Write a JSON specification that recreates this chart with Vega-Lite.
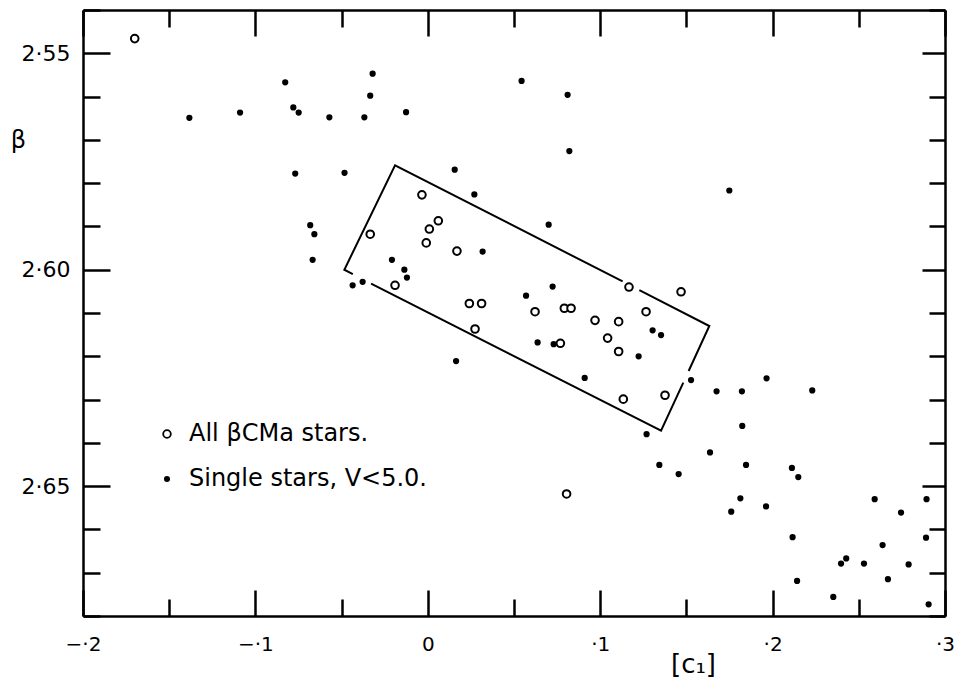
{
  "$schema": "https://vega.github.io/schema/vega-lite/v6.json",
  "width": 862,
  "height": 606,
  "autosize": {"type": "none"},
  "padding": {"left": 83, "top": 10, "right": 21, "bottom": 71},
  "background": "white",
  "config": {
    "view": {"stroke": null},
    "font": "DejaVu Sans",
    "axis": {
      "domainColor": "black",
      "domainWidth": 2.5,
      "tickColor": "black",
      "tickWidth": 2.5,
      "grid": false,
      "labelColor": "black",
      "labelFont": "DejaVu Sans",
      "titleColor": "black",
      "titleFont": "DejaVu Sans",
      "titleFontWeight": "normal"
    },
    "legend": {"labelFont": "DejaVu Sans"}
  },
  "datasets": {
    "box": [
      {"seg": "s1", "ord": 1, "c1": -0.0435, "beta": 2.6010},
      {"seg": "s1", "ord": 2, "c1": -0.0484, "beta": 2.6000},
      {"seg": "s1", "ord": 3, "c1": -0.0190, "beta": 2.5759},
      {"seg": "s1", "ord": 4, "c1": 0.1130, "beta": 2.6027},
      {"seg": "s2", "ord": 1, "c1": 0.1227, "beta": 2.6047},
      {"seg": "s2", "ord": 2, "c1": 0.1633, "beta": 2.6130},
      {"seg": "s2", "ord": 3, "c1": 0.1513, "beta": 2.6234},
      {"seg": "s3", "ord": 1, "c1": 0.1482, "beta": 2.6261},
      {"seg": "s3", "ord": 2, "c1": 0.1353, "beta": 2.6372},
      {"seg": "s3", "ord": 3, "c1": -0.0329, "beta": 2.6032}
    ],
    "stars": [
      {"sample": "All βCMa stars.", "c1": -0.1700, "beta": 2.5466},
      {"sample": "All βCMa stars.", "c1": -0.0334, "beta": 2.5918},
      {"sample": "All βCMa stars.", "c1": -0.0034, "beta": 2.5827},
      {"sample": "All βCMa stars.", "c1": 0.0061, "beta": 2.5887},
      {"sample": "All βCMa stars.", "c1": 0.0009, "beta": 2.5906},
      {"sample": "All βCMa stars.", "c1": -0.0009, "beta": 2.5938},
      {"sample": "All βCMa stars.", "c1": 0.0169, "beta": 2.5957},
      {"sample": "All βCMa stars.", "c1": -0.0190, "beta": 2.6036},
      {"sample": "All βCMa stars.", "c1": 0.0241, "beta": 2.6078},
      {"sample": "All βCMa stars.", "c1": 0.0312, "beta": 2.6078},
      {"sample": "All βCMa stars.", "c1": 0.0274, "beta": 2.6137},
      {"sample": "All βCMa stars.", "c1": 0.0622, "beta": 2.6097},
      {"sample": "All βCMa stars.", "c1": 0.0792, "beta": 2.6089},
      {"sample": "All βCMa stars.", "c1": 0.0831, "beta": 2.6089},
      {"sample": "All βCMa stars.", "c1": 0.0769, "beta": 2.6170},
      {"sample": "All βCMa stars.", "c1": 0.0970, "beta": 2.6117},
      {"sample": "All βCMa stars.", "c1": 0.1107, "beta": 2.6120},
      {"sample": "All βCMa stars.", "c1": 0.1043, "beta": 2.6158},
      {"sample": "All βCMa stars.", "c1": 0.1107, "beta": 2.6189},
      {"sample": "All βCMa stars.", "c1": 0.1167, "beta": 2.6040},
      {"sample": "All βCMa stars.", "c1": 0.1266, "beta": 2.6097},
      {"sample": "All βCMa stars.", "c1": 0.1469, "beta": 2.6051},
      {"sample": "All βCMa stars.", "c1": 0.1376, "beta": 2.6290},
      {"sample": "All βCMa stars.", "c1": 0.1134, "beta": 2.6299},
      {"sample": "All βCMa stars.", "c1": 0.0805, "beta": 2.6518},
      {"sample": "Single stars, V<5.0.", "c1": -0.0827, "beta": 2.5567},
      {"sample": "Single stars, V<5.0.", "c1": -0.1383, "beta": 2.5649},
      {"sample": "Single stars, V<5.0.", "c1": -0.1089, "beta": 2.5637},
      {"sample": "Single stars, V<5.0.", "c1": -0.0780, "beta": 2.5625},
      {"sample": "Single stars, V<5.0.", "c1": -0.0749, "beta": 2.5637},
      {"sample": "Single stars, V<5.0.", "c1": -0.0571, "beta": 2.5648},
      {"sample": "Single stars, V<5.0.", "c1": -0.0368, "beta": 2.5648},
      {"sample": "Single stars, V<5.0.", "c1": -0.0334, "beta": 2.5598},
      {"sample": "Single stars, V<5.0.", "c1": -0.0320, "beta": 2.5547},
      {"sample": "Single stars, V<5.0.", "c1": -0.0126, "beta": 2.5636},
      {"sample": "Single stars, V<5.0.", "c1": -0.0769, "beta": 2.5778},
      {"sample": "Single stars, V<5.0.", "c1": -0.0483, "beta": 2.5776},
      {"sample": "Single stars, V<5.0.", "c1": -0.0682, "beta": 2.5897},
      {"sample": "Single stars, V<5.0.", "c1": -0.0658, "beta": 2.5918},
      {"sample": "Single stars, V<5.0.", "c1": -0.0668, "beta": 2.5977},
      {"sample": "Single stars, V<5.0.", "c1": -0.0436, "beta": 2.6036},
      {"sample": "Single stars, V<5.0.", "c1": -0.0378, "beta": 2.6028},
      {"sample": "Single stars, V<5.0.", "c1": 0.0544, "beta": 2.5564},
      {"sample": "Single stars, V<5.0.", "c1": 0.0811, "beta": 2.5596},
      {"sample": "Single stars, V<5.0.", "c1": 0.0821, "beta": 2.5726},
      {"sample": "Single stars, V<5.0.", "c1": 0.0156, "beta": 2.5769},
      {"sample": "Single stars, V<5.0.", "c1": 0.0270, "beta": 2.5826},
      {"sample": "Single stars, V<5.0.", "c1": 0.0701, "beta": 2.5896},
      {"sample": "Single stars, V<5.0.", "c1": 0.0318, "beta": 2.5958},
      {"sample": "Single stars, V<5.0.", "c1": -0.0208, "beta": 2.5977},
      {"sample": "Single stars, V<5.0.", "c1": -0.0136, "beta": 2.6000},
      {"sample": "Single stars, V<5.0.", "c1": -0.0121, "beta": 2.6018},
      {"sample": "Single stars, V<5.0.", "c1": 0.0164, "beta": 2.6211},
      {"sample": "Single stars, V<5.0.", "c1": 0.0570, "beta": 2.6060},
      {"sample": "Single stars, V<5.0.", "c1": 0.0724, "beta": 2.6039},
      {"sample": "Single stars, V<5.0.", "c1": 0.0637, "beta": 2.6168},
      {"sample": "Single stars, V<5.0.", "c1": 0.0730, "beta": 2.6172},
      {"sample": "Single stars, V<5.0.", "c1": 0.1304, "beta": 2.6140},
      {"sample": "Single stars, V<5.0.", "c1": 0.1353, "beta": 2.6151},
      {"sample": "Single stars, V<5.0.", "c1": 0.1223, "beta": 2.6200},
      {"sample": "Single stars, V<5.0.", "c1": 0.0910, "beta": 2.6250},
      {"sample": "Single stars, V<5.0.", "c1": 0.1269, "beta": 2.6380},
      {"sample": "Single stars, V<5.0.", "c1": 0.1749, "beta": 2.5817},
      {"sample": "Single stars, V<5.0.", "c1": 0.1527, "beta": 2.6255},
      {"sample": "Single stars, V<5.0.", "c1": 0.1675, "beta": 2.6281},
      {"sample": "Single stars, V<5.0.", "c1": 0.1822, "beta": 2.6281},
      {"sample": "Single stars, V<5.0.", "c1": 0.1965, "beta": 2.6251},
      {"sample": "Single stars, V<5.0.", "c1": 0.2230, "beta": 2.6279},
      {"sample": "Single stars, V<5.0.", "c1": 0.1824, "beta": 2.6361},
      {"sample": "Single stars, V<5.0.", "c1": 0.1343, "beta": 2.6451},
      {"sample": "Single stars, V<5.0.", "c1": 0.1455, "beta": 2.6472},
      {"sample": "Single stars, V<5.0.", "c1": 0.1637, "beta": 2.6422},
      {"sample": "Single stars, V<5.0.", "c1": 0.1846, "beta": 2.6451},
      {"sample": "Single stars, V<5.0.", "c1": 0.2112, "beta": 2.6458},
      {"sample": "Single stars, V<5.0.", "c1": 0.2149, "beta": 2.6479},
      {"sample": "Single stars, V<5.0.", "c1": 0.1813, "beta": 2.6528},
      {"sample": "Single stars, V<5.0.", "c1": 0.1760, "beta": 2.6559},
      {"sample": "Single stars, V<5.0.", "c1": 0.1962, "beta": 2.6547},
      {"sample": "Single stars, V<5.0.", "c1": 0.2116, "beta": 2.6618},
      {"sample": "Single stars, V<5.0.", "c1": 0.2142, "beta": 2.6719},
      {"sample": "Single stars, V<5.0.", "c1": 0.2352, "beta": 2.6756},
      {"sample": "Single stars, V<5.0.", "c1": 0.2397, "beta": 2.6679},
      {"sample": "Single stars, V<5.0.", "c1": 0.2427, "beta": 2.6667},
      {"sample": "Single stars, V<5.0.", "c1": 0.2530, "beta": 2.6679},
      {"sample": "Single stars, V<5.0.", "c1": 0.2592, "beta": 2.6530},
      {"sample": "Single stars, V<5.0.", "c1": 0.2638, "beta": 2.6636},
      {"sample": "Single stars, V<5.0.", "c1": 0.2669, "beta": 2.6715},
      {"sample": "Single stars, V<5.0.", "c1": 0.2745, "beta": 2.6561},
      {"sample": "Single stars, V<5.0.", "c1": 0.2789, "beta": 2.6681},
      {"sample": "Single stars, V<5.0.", "c1": 0.2893, "beta": 2.6530},
      {"sample": "Single stars, V<5.0.", "c1": 0.2890, "beta": 2.6619},
      {"sample": "Single stars, V<5.0.", "c1": 0.2905, "beta": 2.6773}
    ]
  },
  "layer": [
    {
      "data": {"name": "box"},
      "mark": {"type": "line", "color": "black", "strokeWidth": 2},
      "encoding": {
        "x": {
          "field": "c1", "type": "quantitative",
          "scale": {"domain": [-0.2, 0.3], "nice": false, "zero": false},
          "axis": {
            "orient": "bottom",
            "values": [-0.2, -0.15, -0.1, -0.05, 0, 0.05, 0.1, 0.15, 0.2, 0.25, 0.3],
            "tickSize": {"condition": {"test": "abs(datum.value*10-round(datum.value*10))<1e-6", "value": -26}, "value": -17},
            "labelExpr": "abs(datum.value*10-round(datum.value*10))<1e-6 ? (datum.value==0 ? '0' : (datum.value<0 ? '−' : '') + '·' + format(abs(datum.value)*10, 'd')) : ''",
            "labelPadding": 44,
            "labelFontSize": 20,
            "labelFlush": false,
            "labelOverlap": false,
            "title": "[c₁]",
            "titleX": 610,
            "titleY": 48,
            "titleFontSize": 26,
            "titleAlign": "center",
            "titleBaseline": "middle"
          }
        },
        "y": {
          "field": "beta", "type": "quantitative",
          "scale": {"domain": [2.54, 2.68], "reverse": true, "nice": false, "zero": false},
          "axis": {
            "orient": "left",
            "values": [2.54, 2.55, 2.56, 2.57, 2.58, 2.59, 2.6, 2.61, 2.62, 2.63, 2.64, 2.65, 2.66, 2.67, 2.68],
            "tickSize": {"condition": {"test": "abs(datum.value*20-round(datum.value*20))<1e-6", "value": -27}, "value": -17},
            "labelExpr": "abs(datum.value*20-round(datum.value*20))<1e-6 ? replace(format(datum.value, '.2f'), '.', '·') : ''",
            "labelPadding": 40,
            "labelFontSize": 22,
            "labelOverlap": false,
            "labelFlush": false,
            "title": "β",
            "titleAngle": 0,
            "titleX": -65,
            "titleY": 130,
            "titleFontSize": 24,
            "titleAlign": "center",
            "titleBaseline": "middle"
          }
        },
        "detail": {"field": "seg", "type": "nominal"},
        "order": {"field": "ord", "type": "quantitative"}
      }
    },
    {
      "data": {"name": "stars"},
      "mark": {"type": "point", "filled": false, "stroke": "black", "strokeWidth": 2, "opacity": 1},
      "encoding": {
        "x": {
          "field": "c1", "type": "quantitative",
          "axis": {
            "orient": "top",
            "values": [-0.2, -0.15, -0.1, -0.05, 0, 0.05, 0.1, 0.15, 0.2, 0.25, 0.3],
            "tickSize": {"condition": {"test": "abs(datum.value*10-round(datum.value*10))<1e-6", "value": -26}, "value": -17},
            "labels": false,
            "title": null
          }
        },
        "y": {
          "field": "beta", "type": "quantitative",
          "axis": {
            "orient": "right",
            "values": [2.54, 2.55, 2.56, 2.57, 2.58, 2.59, 2.6, 2.61, 2.62, 2.63, 2.64, 2.65, 2.66, 2.67, 2.68],
            "tickSize": {"condition": {"test": "abs(datum.value*20-round(datum.value*20))<1e-6", "value": -23}, "value": -16},
            "labels": false,
            "title": null
          }
        },
        "fill": {
          "field": "sample", "type": "ordinal",
          "scale": {"domain": ["All βCMa stars.", "Single stars, V<5.0."], "range": ["white", "black"]},
          "legend": {
            "orient": "none",
            "legendX": 72,
            "legendY": 412,
            "title": null,
            "labelFontSize": 24,
            "labelLimit": 0,
            "labelColor": "black",
            "labelOffset": 10,
            "rowPadding": 21,
            "symbolStrokeColor": "black",
            "symbolStrokeWidth": 1.8
          }
        },
        "size": {
          "field": "sample", "type": "ordinal",
          "scale": {"domain": ["All βCMa stars.", "Single stars, V<5.0."], "range": [58, 18]}
        }
      }
    }
  ],
  "resolve": {"axis": {"x": "independent", "y": "independent"}}
}
